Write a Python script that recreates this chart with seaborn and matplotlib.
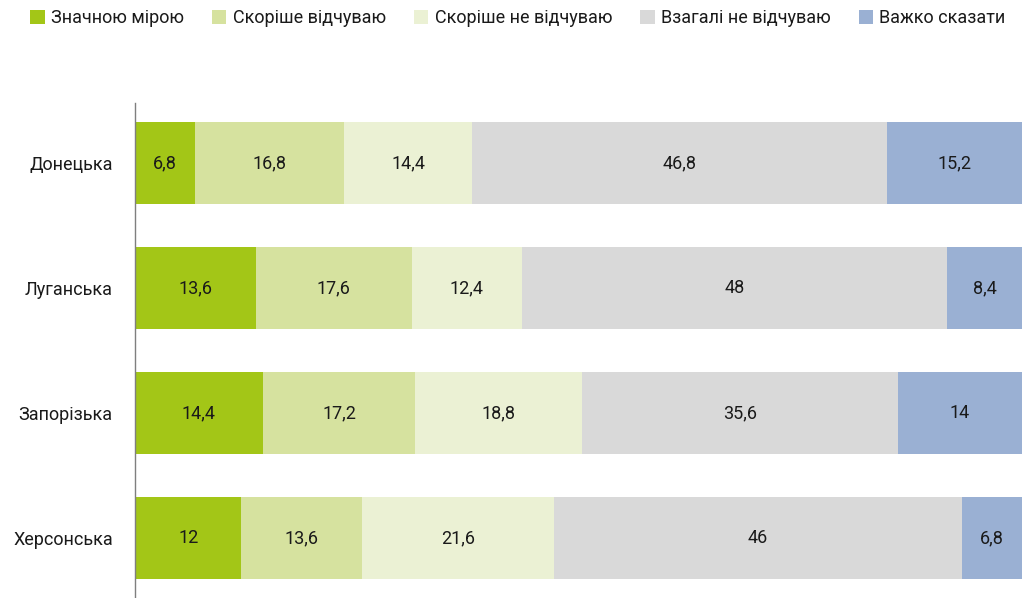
import numpy as np
import pandas as pd
import matplotlib
matplotlib.use("Agg")
import matplotlib.pyplot as plt
from matplotlib.patches import Patch
import seaborn as sns

regions = ["Донецька", "Луганська", "Запорізька", "Херсонська"]
answers = ["Значною мірою", "Скоріше відчуваю", "Скоріше не відчуваю",
           "Взагалі не відчуваю", "Важко сказати"]
strongly = [6.8, 13.6, 14.4, 12]
rather_yes = [16.8, 17.6, 17.2, 13.6]
rather_no = [14.4, 12.4, 18.8, 21.6]
not_at_all = [46.8, 48, 35.6, 46]
hard_to_say = [15.2, 8.4, 14, 6.8]
palette = ["#A3C617", "#D6E29F", "#EBF1D4", "#D9D9D9", "#9AB0D3"]

sns.set_theme(style="white")
plt.rcParams["font.family"] = ["Roboto", "DejaVu Sans"]

values = np.array([strongly, rather_yes, rather_no, not_at_all, hard_to_say])
cum = np.cumsum(values, axis=0)

fig = plt.figure(figsize=(10.22, 5.98), dpi=100)
ax = fig.add_axes([135 / 1022, 0, 887 / 1022, 495 / 598])

# Stack by drawing cumulative totals from the longest to the shortest
for i in range(len(answers) - 1, -1, -1):
    df = pd.DataFrame({"region": regions, "total": cum[i]})
    sns.barplot(data=df, x="total", y="region", color=palette[i],
                saturation=1, width=0.66, ax=ax, orient="h")

for p in ax.patches:
    p.set_linewidth(0)

for i in range(len(answers)):
    for j in range(len(regions)):
        v = values[i, j]
        center = cum[i, j] - v / 2
        txt = f"{v:g}".replace(".", ",")
        ax.text(center, j, txt, ha="center", va="center", fontsize=13,
                color="#1a1a1a")

ax.set_xlim(0, 100)
ax.set_ylim(3.48, -0.48)
ax.set_xlabel("")
ax.set_ylabel("")
ax.set_xticks([])
ax.tick_params(axis="y", length=0, pad=16, labelsize=13, labelcolor="#1a1a1a")
for s in ["top", "right", "bottom"]:
    ax.spines[s].set_visible(False)
ax.spines["left"].set_color("#7f7f7f")
ax.spines["left"].set_linewidth(1)

handles = [Patch(facecolor=c, edgecolor="none") for c in palette]
fig.legend(handles, answers, loc="upper left", bbox_to_anchor=(14 / 1022, 1.012),
           ncol=5, frameon=False, fontsize=13, handlelength=0.8,
           handleheight=0.8, handletextpad=0.35, columnspacing=1.55,
           labelcolor="#1a1a1a")

fig.savefig("out.png", dpi=100)
